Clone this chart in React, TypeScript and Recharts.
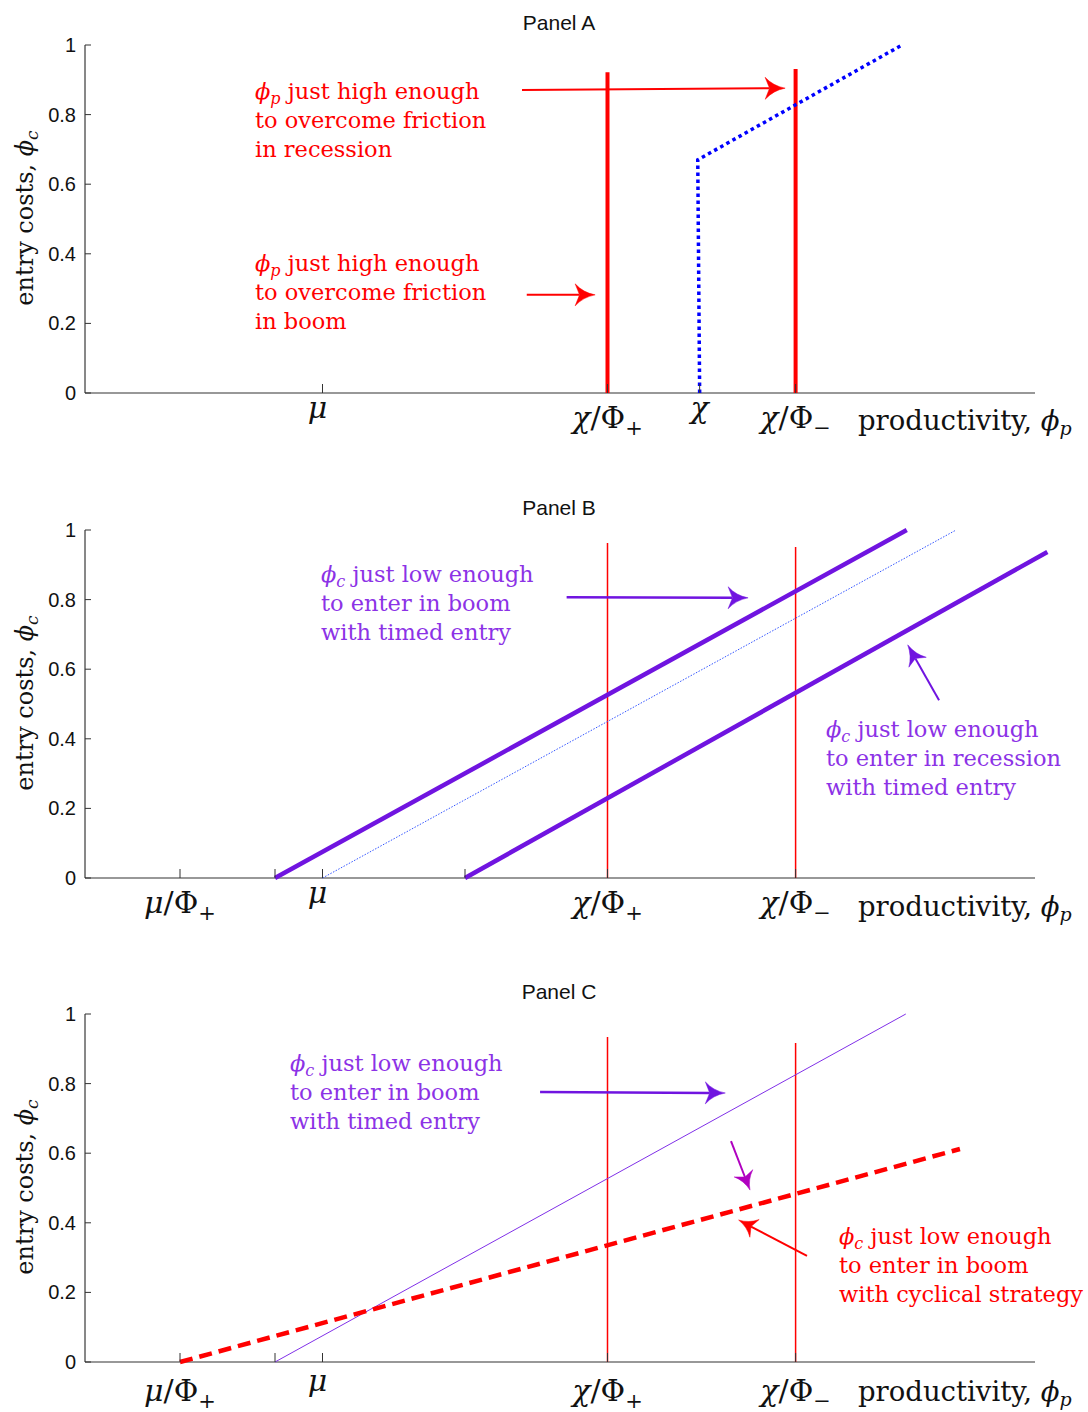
import React from 'react';
import { ComposedChart, Line, XAxis, YAxis, ReferenceLine } from 'recharts';

// ---------- shared axis data ----------
const yTicks = [0, 0.2, 0.4, 0.6, 0.8, 1];
const yTickLabels = ['0', '0.2', '0.4', '0.6', '0.8', '1'];
const xDomain = [0, 10.4];
const xAxisEnd = 10;

// ---------- Panel A ----------
const panelATicks = [2.5, 5.5, 6.47, 7.48];
const panelATickLabels = ['μ', 'χ/Φ+', 'χ', 'χ/Φ−'];
const panelABoomCut = [{ x: 5.5, y: 0 }, { x: 5.5, y: 0.922 }];
const panelARecessionCut = [{ x: 7.48, y: 0 }, { x: 7.48, y: 0.931 }];
const panelAFriction = [{ x: 6.47, y: 0 }, { x: 6.45, y: 0.67 }, { x: 8.6, y: 1.0 }];
const panelAArrowRecession = [{ x: 4.6, y: 0.871 }, { x: 7.37, y: 0.876 }];
const panelAArrowBoom = [{ x: 4.65, y: 0.282 }, { x: 5.37, y: 0.282 }];
const panelANoteRecession = ['ϕp just high enough', 'to overcome friction', 'in recession'];
const panelANoteBoom = ['ϕp just high enough', 'to overcome friction', 'in boom'];

// ---------- Panel B ----------
const panelBTicks = [1, 2, 2.5, 4, 5.5, 7.48];
const panelBTickLabels = ['μ/Φ+', '', 'μ', '', 'χ/Φ+', 'χ/Φ−'];
const panelBBoomTimed = [{ x: 2.0, y: 0 }, { x: 8.65, y: 1.0 }];
const panelBBaseline = [{ x: 2.5, y: 0 }, { x: 9.17, y: 1.0 }];
const panelBRecessionTimed = [{ x: 4.0, y: 0 }, { x: 10.13, y: 0.937 }];
const panelBBoomCut = [{ x: 5.5, y: 0 }, { x: 5.5, y: 0.963 }];
const panelBRecessionCut = [{ x: 7.48, y: 0 }, { x: 7.48, y: 0.951 }];
const panelBArrowBoom = [{ x: 5.07, y: 0.807 }, { x: 6.98, y: 0.805 }];
const panelBArrowRecession = [{ x: 8.99, y: 0.511 }, { x: 8.66, y: 0.67 }];
const panelBNoteBoom = ['ϕc just low enough', 'to enter in boom', 'with timed entry'];
const panelBNoteRecession = ['ϕc just low enough', 'to enter in recession', 'with timed entry'];

// ---------- Panel C ----------
const panelCTicks = [1, 2, 2.5, 5.5, 7.48];
const panelCTickLabels = ['μ/Φ+', '', 'μ', 'χ/Φ+', 'χ/Φ−'];
const panelCBoomTimed = [{ x: 2.0, y: 0 }, { x: 8.64, y: 1.0 }];
const panelCCyclical = [{ x: 1.0, y: 0 }, { x: 9.21, y: 0.612 }];
const panelCBoomCut = [{ x: 5.5, y: 0 }, { x: 5.5, y: 0.934 }];
const panelCRecessionCut = [{ x: 7.48, y: 0 }, { x: 7.48, y: 0.917 }];
const panelCArrowTimed = [{ x: 4.79, y: 0.776 }, { x: 6.74, y: 0.773 }];
const panelCArrowDown = [{ x: 6.8, y: 0.635 }, { x: 7.0, y: 0.494 }];
const panelCArrowCyclical = [{ x: 7.6, y: 0.305 }, { x: 6.88, y: 0.408 }];
const panelCNoteTimed = ['ϕc just low enough', 'to enter in boom', 'with timed entry'];
const panelCNoteCyclical = ['ϕc just low enough', 'to enter in boom', 'with cyclical strategy'];

// ---------- styles ----------
const SERIF = "'DejaVu Serif', 'Liberation Serif', serif";
const SANS = "'Liberation Sans', Arial, sans-serif";
const RED = '#ff0000';
const BLUE = '#0000ff';
const PURPLE = '#7014e0';
const PURPLE_TEXT = '#8c32e6';
const THIN_PURPLE = '#8030e8';
const THIN_BLUE = '#3355ff';
const MAGENTA = '#b000c0';
const AXIS = '#333333';

const W = 1088;
const H = 443;
const MARGIN = { top: 45, right: 15, bottom: 0, left: 25 };

function TickLabel({ x, y, label }: any) {
  const m = label.match(/^(.)\/Φ(.)$/);
  if (m) {
    return (
      <text x={x} y={y + 35} textAnchor="middle" fontFamily={SERIF} fontSize={30} fill="#111">
        <tspan fontStyle="italic">{m[1]}</tspan>
        <tspan>/Φ</tspan>
        <tspan fontSize={21} dy={7}>{m[2]}</tspan>
      </text>
    );
  }
  const dx = label === 'μ' ? -5 : 0;
  return (
    <text x={x + dx} y={y + 25} textAnchor="middle" fontFamily={SERIF} fontSize={30} fontStyle="italic" fill="#111">
      {label}
    </text>
  );
}

function makeXTick(ticks: number[], labels: string[], shift: number) {
  return (props: any) => {
    const { x, y, payload } = props;
    const i = ticks.indexOf(payload.value);
    const label = i >= 0 ? labels[i] : '';
    return (
      <g>
        <line x1={x} x2={x} y1={y} y2={y - 9} stroke={AXIS} strokeWidth={1} />
        {label ? <TickLabel x={x} y={y + shift} label={label} /> : null}
      </g>
    );
  };
}

function YTick(props: any) {
  const { x, y, payload } = props;
  const i = yTicks.indexOf(payload.value);
  return (
    <g>
      <line x1={x} x2={x + 6} y1={y} y2={y} stroke={AXIS} strokeWidth={1} />
      <text x={x - 9} y={y + 7} textAnchor="end" fontFamily={SANS} fontSize={20} fill="#111">
        {yTickLabels[i]}
      </text>
    </g>
  );
}

function makeArrow(color: string, lw: number, head: number, wid: number) {
  return (props: any) => {
    const { x1, y1, x2, y2 } = props;
    const dx = x2 - x1;
    const dy = y2 - y1;
    const len = Math.hypot(dx, dy) || 1;
    const ux = dx / len;
    const uy = dy / len;
    const nx = -uy;
    const ny = ux;
    const bx = x2 - ux * head;
    const by = y2 - uy * head;
    const bl = [bx + (nx * wid) / 2, by + (ny * wid) / 2];
    const br = [bx - (nx * wid) / 2, by - (ny * wid) / 2];
    const nt = [x2 - ux * head * 0.78, y2 - uy * head * 0.78];
    const c1 = [x2 - ux * head * 0.6 + nx * wid * 0.1, y2 - uy * head * 0.6 + ny * wid * 0.1];
    const c2 = [x2 - ux * head * 0.6 - nx * wid * 0.1, y2 - uy * head * 0.6 - ny * wid * 0.1];
    const d = `M${x2},${y2} Q${c1[0]},${c1[1]} ${bl[0]},${bl[1]} L${nt[0]},${nt[1]} L${br[0]},${br[1]} Q${c2[0]},${c2[1]} ${x2},${y2} Z`;
    return (
      <g>
        <line x1={x1} y1={y1} x2={nt[0]} y2={nt[1]} stroke={color} strokeWidth={lw} />
        <path d={d} fill={color} stroke={color} strokeWidth={0.5} />
      </g>
    );
  };
}

function Note({ x, y, color, lines }: any) {
  const size = 22.5;
  const lh = 29;
  return (
    <text x={x} y={y} fill={color} fontFamily={SERIF} fontSize={size} style={{ whiteSpace: 'pre' }}>
      {lines.map((ln: string, i: number) => {
        const m = ln.match(/^ϕ(\w) (.*)$/);
        if (m) {
          return (
            <tspan key={i} x={x} y={y + i * lh}>
              <tspan fontStyle="italic">ϕ</tspan>
              <tspan fontStyle="italic" fontSize={16} dy={5}>{m[1]}</tspan>
              <tspan dy={-5}>{' ' + m[2]}</tspan>
            </tspan>
          );
        }
        return (
          <tspan key={i} x={x} y={y + i * lh}>
            {ln}
          </tspan>
        );
      })}
    </text>
  );
}

function Frame({ title, shift, children }: any) {
  return (
    <svg width={W} height={H} style={{ position: 'absolute', left: 0, top: 0, overflow: 'visible', pointerEvents: 'none' }}>
      <text x={559} y={30} textAnchor="middle" fontFamily={SANS} fontSize={21} fill="#111">
        {title}
      </text>
      <text
        x={33}
        y={218}
        transform="rotate(-90 33 218)"
        textAnchor="middle"
        fontFamily={SERIF}
        fontSize={24}
        fill="#111"
        style={{ whiteSpace: 'pre' }}
      >
        <tspan>entry costs, </tspan>
        <tspan fontStyle="italic">ϕ</tspan>
        <tspan fontStyle="italic" fontSize={17} dy={5}>c</tspan>
      </text>
      <text x={858} y={430 + shift} fontFamily={SERIF} fontSize={27.5} fill="#111" style={{ whiteSpace: 'pre' }}>
        <tspan>productivity, </tspan>
        <tspan fontStyle="italic">ϕ</tspan>
        <tspan fontStyle="italic" fontSize={19} dy={5}>p</tspan>
      </text>
      {children}
    </svg>
  );
}

function Axes({ ticks, labels, shift }: any) {
  return [
    <XAxis
      key="x"
      type="number"
      dataKey="x"
      domain={xDomain}
      ticks={ticks}
      interval={0}
      axisLine={false}
      tickLine={false}
      tickSize={0}
      tickMargin={0}
      height={50}
      allowDataOverflow
      tick={makeXTick(ticks, labels, shift)}
    />,
    <YAxis
      key="y"
      type="number"
      dataKey="y"
      domain={[0, 1]}
      ticks={yTicks}
      interval={0}
      width={60}
      axisLine={{ stroke: '#111', strokeWidth: 1 }}
      tickLine={false}
      tickSize={0}
      tickMargin={0}
      tick={YTick}
    />,
  ];
}

function PanelA() {
  return (
    <div style={{ position: 'absolute', left: 0, top: 0, width: W, height: H }}>
      <ComposedChart width={W} height={H} margin={MARGIN}>
        {Axes({ ticks: panelATicks, labels: panelATickLabels, shift: 0 })}
        <ReferenceLine segment={[{ x: 0, y: 0 }, { x: xAxisEnd, y: 0 }]} stroke={AXIS} strokeWidth={1.2} />
        <Line data={panelABoomCut} dataKey="y" type="linear" dot={false} stroke={RED} strokeWidth={4} isAnimationActive={false} />
        <Line data={panelARecessionCut} dataKey="y" type="linear" dot={false} stroke={RED} strokeWidth={4} isAnimationActive={false} />
        <Line data={panelAFriction} dataKey="y" type="linear" dot={false} stroke={BLUE} strokeWidth={3.5} strokeDasharray="3.5 3.5" isAnimationActive={false} />
        <ReferenceLine segment={panelAArrowRecession} stroke={RED} shape={makeArrow(RED, 2, 20, 22)} />
        <ReferenceLine segment={panelAArrowBoom} stroke={RED} shape={makeArrow(RED, 2, 20, 22)} />
      </ComposedChart>
      <Frame title="Panel A" shift={0}>
        <Note x={255} y={99} color={RED} lines={panelANoteRecession} />
        <Note x={255} y={271} color={RED} lines={panelANoteBoom} />
      </Frame>
    </div>
  );
}

function PanelB() {
  return (
    <div style={{ position: 'absolute', left: 0, top: 485, width: W, height: H }}>
      <ComposedChart width={W} height={H} margin={MARGIN}>
        {Axes({ ticks: panelBTicks, labels: panelBTickLabels, shift: 0 })}
        <ReferenceLine segment={[{ x: 0, y: 0 }, { x: xAxisEnd, y: 0 }]} stroke={AXIS} strokeWidth={1.2} />
        <Line data={panelBBoomCut} dataKey="y" type="linear" dot={false} stroke={RED} strokeWidth={1.5} isAnimationActive={false} />
        <Line data={panelBRecessionCut} dataKey="y" type="linear" dot={false} stroke={RED} strokeWidth={1.5} isAnimationActive={false} />
        <Line data={panelBBaseline} dataKey="y" type="linear" dot={false} stroke={THIN_BLUE} strokeWidth={1} strokeDasharray="1.5 1.5" isAnimationActive={false} />
        <Line data={panelBBoomTimed} dataKey="y" type="linear" dot={false} stroke={PURPLE} strokeWidth={4.5} isAnimationActive={false} />
        <Line data={panelBRecessionTimed} dataKey="y" type="linear" dot={false} stroke={PURPLE} strokeWidth={4.5} isAnimationActive={false} />
        <ReferenceLine segment={panelBArrowBoom} stroke={PURPLE} shape={makeArrow(PURPLE, 2.5, 20, 22)} />
        <ReferenceLine segment={panelBArrowRecession} stroke={PURPLE} shape={makeArrow(PURPLE, 2, 20, 20)} />
      </ComposedChart>
      <Frame title="Panel B" shift={1}>
        <Note x={321} y={97} color={PURPLE_TEXT} lines={panelBNoteBoom} />
        <Note x={826} y={252} color={PURPLE_TEXT} lines={panelBNoteRecession} />
      </Frame>
    </div>
  );
}

function PanelC() {
  return (
    <div style={{ position: 'absolute', left: 0, top: 969, width: W, height: H }}>
      <ComposedChart width={W} height={H} margin={MARGIN}>
        {Axes({ ticks: panelCTicks, labels: panelCTickLabels, shift: 4 })}
        <ReferenceLine segment={[{ x: 0, y: 0 }, { x: xAxisEnd, y: 0 }]} stroke={AXIS} strokeWidth={1.2} />
        <Line data={panelCBoomCut} dataKey="y" type="linear" dot={false} stroke={RED} strokeWidth={1.5} isAnimationActive={false} />
        <Line data={panelCRecessionCut} dataKey="y" type="linear" dot={false} stroke={RED} strokeWidth={1.5} isAnimationActive={false} />
        <Line data={panelCBoomTimed} dataKey="y" type="linear" dot={false} stroke={THIN_PURPLE} strokeWidth={1} isAnimationActive={false} />
        <Line data={panelCCyclical} dataKey="y" type="linear" dot={false} stroke={RED} strokeWidth={4.5} strokeDasharray="13 7" isAnimationActive={false} />
        <ReferenceLine segment={panelCArrowTimed} stroke={PURPLE} shape={makeArrow(PURPLE, 2.5, 20, 22)} />
        <ReferenceLine segment={panelCArrowDown} stroke={MAGENTA} shape={makeArrow(MAGENTA, 2, 18, 20)} />
        <ReferenceLine segment={panelCArrowCyclical} stroke={RED} shape={makeArrow(RED, 2, 18, 20)} />
      </ComposedChart>
      <Frame title="Panel C" shift={2}>
        <Note x={290} y={102} color={PURPLE_TEXT} lines={panelCNoteTimed} />
        <Note x={839} y={275} color={RED} lines={panelCNoteCyclical} />
      </Frame>
    </div>
  );
}

export default function App() {
  return (
    <div style={{ position: 'absolute', left: 0, top: 0, width: 1088, height: 1412, background: '#fff', overflow: 'hidden' }}>
      <PanelA />
      <PanelB />
      <PanelC />
    </div>
  );
}
